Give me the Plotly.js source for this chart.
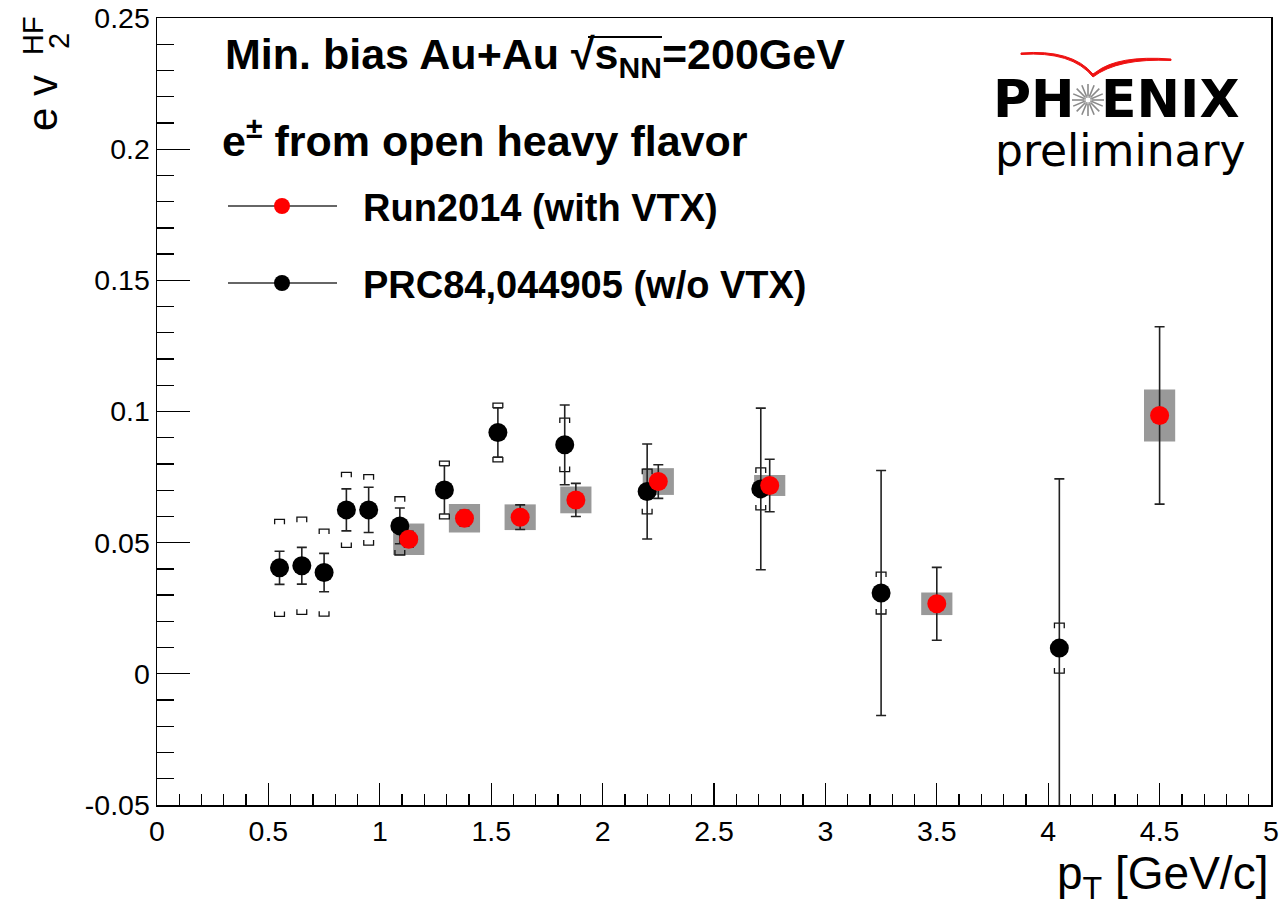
<!DOCTYPE html>
<html>
<head>
<meta charset="utf-8">
<script src="https://cdn.plot.ly/plotly-3.0.1.min.js"></script>
<style>html,body{margin:0;padding:0;background:#fff;}</style>
</head>
<body>
<div id="chart" style="width:1281px;height:916px;"></div>
<script>
// ---------------- data ----------------
// Run2014 (with VTX)
const run14_pt   = [1.13, 1.38, 1.63, 1.88, 2.25, 2.75, 3.5, 4.5];
const run14_v2   = [0.0513, 0.0593, 0.0597, 0.0663, 0.0733, 0.0718, 0.0267, 0.0985];
const run14_stat = [0.0030, 0.0030, 0.0047, 0.0063, 0.0064, 0.0100, 0.0139, 0.0338];
const run14_sys  = [0.0060, 0.0054, 0.0049, 0.0051, 0.0051, 0.0040, 0.0043, 0.0099];
// PRC84,044905 (w/o VTX)
const prc_pt   = [0.55, 0.65, 0.75, 0.85, 0.95, 1.09, 1.29, 1.53, 1.83, 2.20, 2.71, 3.25, 4.05];
const prc_v2   = [0.0404, 0.0412, 0.0386, 0.0625, 0.0625, 0.0564, 0.0701, 0.0920, 0.0873, 0.0695, 0.0705, 0.0308, 0.0098];
const prc_stat = [0.0063, 0.0070, 0.0073, 0.0080, 0.0086, 0.0068, 0.0092, 0.0094, 0.0152, 0.0181, 0.0308, 0.0467, 0.0645];
const prc_sys  = [0.0185, 0.0185, 0.0166, 0.0143, 0.0134, 0.0111, 0.0110, 0.0112, 0.0102, 0.0085, 0.0080, 0.0080, 0.0095];
// tick labels
const xTickVals = [0, 0.5, 1, 1.5, 2, 2.5, 3, 3.5, 4, 4.5, 5];
const xTickText = ["0", "0.5", "1", "1.5", "2", "2.5", "3", "3.5", "4", "4.5", "5"];
const yTickVals = [-0.05, 0, 0.05, 0.1, 0.15, 0.2, 0.25];
const yTickText = ["-0.05", "0", "0.05", "0.1", "0.15", "0.2", "0.25"];
// texts
const seriesNames = ["Run2014 (with VTX)", "PRC84,044905 (w/o VTX)"];

// ---------------- style constants ----------------
const FONT = "Liberation Sans, Arial, Helvetica, sans-serif";
const W = 1281, H = 916;
const M = {l: 157, r: 10, t: 18, b: 111};
const PW = W - M.l - M.r, PH = H - M.t - M.b;
const px = v => (v - M.l) / PW;       // pixel x -> paper
const py = v => (H - M.b - v) / PH;   // pixel y -> paper
const BOX_W = 0.14;      // width of systematic box (data units)
const BR_W = 0.022;      // half width of bracket (data units)
const BR_H = 0.0019;     // bracket leg length (data units)

// bracket line coords for systematic errors
function brackets(xs, ys, sys) {
  const bx = [], by = [];
  for (let i = 0; i < xs.length; i++) {
    const t = ys[i] + sys[i], b = ys[i] - sys[i];
    bx.push(xs[i] - BR_W, xs[i] - BR_W, xs[i] + BR_W, xs[i] + BR_W, null);
    by.push(t - BR_H, t, t, t - BR_H, null);
    bx.push(xs[i] - BR_W, xs[i] - BR_W, xs[i] + BR_W, xs[i] + BR_W, null);
    by.push(b + BR_H, b, b, b + BR_H, null);
  }
  return {bx, by};
}
const br = brackets(prc_pt, prc_v2, prc_sys);

const traces = [
  { // gray systematic boxes of Run2014
    type: 'bar', x: run14_pt,
    base: run14_v2.map((v, i) => v - run14_sys[i]),
    y: run14_sys.map(s => 2 * s),
    width: run14_pt.map(() => BOX_W),
    marker: {color: '#999999', line: {width: 0}},
    showlegend: false, hoverinfo: 'skip'
  },
  { // brackets of PRC
    type: 'scatter', mode: 'lines', x: br.bx, y: br.by,
    line: {color: '#111', width: 1.3}, showlegend: false, hoverinfo: 'skip'
  },
  {
    type: 'scatter', mode: 'markers', name: seriesNames[1],
    x: prc_pt, y: prc_v2,
    error_y: {type: 'data', array: prc_stat, visible: true, color: '#222', thickness: 1.6, width: 5},
    marker: {color: '#000', size: 19, symbol: 'circle'},
    showlegend: false
  },
  {
    type: 'scatter', mode: 'markers', name: seriesNames[0],
    x: run14_pt, y: run14_v2,
    error_y: {type: 'data', array: run14_stat, visible: true, color: '#222', thickness: 1.6, width: 5},
    marker: {color: '#ff0000', size: 19, symbol: 'circle'},
    showlegend: false
  }
];

// ---------------- decorations ----------------
const shapes = [];
// legend symbols
[[206, '#ff0000'], [283, '#000000']].forEach(([yy, c]) => {
  shapes.push({type: 'line', xref: 'paper', yref: 'paper', x0: px(228), x1: px(337), y0: py(yy), y1: py(yy),
    line: {color: '#333', width: 1.3}});
  shapes.push({type: 'circle', xref: 'paper', yref: 'paper', x0: px(274), x1: px(290), y0: py(yy + 8), y1: py(yy - 8),
    fillcolor: c, line: {color: c, width: 0}});
});
// overline of the square root
shapes.push({type: 'line', xref: 'paper', yref: 'paper', x0: px(588), x1: px(662), y0: py(37), y1: py(37),
  line: {color: '#000', width: 2}});
// PHENIX star-burst in place of the "O"
const sc = [1088, 100];
for (let k = 0; k < 16; k++) {
  const a = k * Math.PI / 8;
  shapes.push({type: 'line', xref: 'paper', yref: 'paper',
    x0: px(sc[0] + 3.5 * Math.cos(a)), y0: py(sc[1] + 3.5 * Math.sin(a)),
    x1: px(sc[0] + 16 * Math.cos(a)), y1: py(sc[1] + 16 * Math.sin(a)),
    line: {color: '#8a8a8a', width: 1.6}});
}
shapes.push({type: 'circle', xref: 'paper', yref: 'paper', x0: px(sc[0] - 3), x1: px(sc[0] + 3), y0: py(sc[1] + 3), y1: py(sc[1] - 3),
  line: {color: '#aaa', width: 1}});
// red swoosh
function P(x, y) { return px(x).toFixed(5) + ',' + py(y).toFixed(5); }
shapes.push({type: 'path', xref: 'paper', yref: 'paper',
  path: 'M' + P(1021, 53) + ' Q' + P(1072, 49) + ' ' + P(1093, 74) + ' L' + P(1096, 72) + ' Q' + P(1118, 55) + ' ' + P(1171, 59)
      + ' L' + P(1171, 60.5) + ' Q' + P(1118, 58) + ' ' + P(1093, 77) + ' Q' + P(1072, 51) + ' ' + P(1021, 54.5) + ' Z',
  fillcolor: '#ee1111', line: {color: '#ee1111', width: 1}});

const annotations = [
  {text: "<b>Min. bias Au+Au √s<sub>NN</sub>=200GeV</b>",
   x: px(223), y: py(57), xanchor: 'left', yanchor: 'middle', font: {size: 43}},
  {text: "<b>e<sup>±</sup> from open heavy flavor</b>", x: px(220), y: py(138), xanchor: 'left', yanchor: 'middle', font: {size: 43}},
  {text: "<b>" + seriesNames[0] + "</b>", x: px(361), y: py(208), xanchor: 'left', yanchor: 'middle', font: {size: 38}},
  {text: "<b>" + seriesNames[1] + "</b>", x: px(361), y: py(285), xanchor: 'left', yanchor: 'middle', font: {size: 38}},
  {text: "<b>PH</b>", x: px(1077), y: py(99), xanchor: 'right', yanchor: 'middle', font: {size: 52, family: 'DejaVu Sans'}},
  {text: "<b>ENIX</b>", x: px(1099), y: py(99), xanchor: 'left', yanchor: 'middle', font: {size: 52, family: 'DejaVu Sans'}},
  {text: "preliminary", x: px(1120), y: py(150), xanchor: 'center', yanchor: 'middle', font: {size: 44, family: 'DejaVu Sans'}},
  // axis titles
  {text: "p<sub>T</sub> [GeV/c]", x: px(1270), y: py(877), xanchor: 'right', yanchor: 'middle', font: {size: 46}},
  {text: "e v", textangle: -90, x: px(43), y: py(103), xanchor: 'center', yanchor: 'middle', font: {size: 42}},
  {text: "HF", textangle: -90, x: px(33), y: py(36), xanchor: 'center', yanchor: 'middle', font: {size: 29}},
  {text: "2", textangle: -90, x: px(59), y: py(41), xanchor: 'center', yanchor: 'middle', font: {size: 29}}
].map(a => Object.assign({xref: 'paper', yref: 'paper', showarrow: false, font: {}}, a,
  {font: Object.assign({family: FONT, color: '#000'}, a.font)}));

const axisCommon = {
  showline: true, linecolor: '#000', linewidth: 1.5, mirror: true,
  showgrid: false, zeroline: false, ticks: 'inside', tickcolor: '#000', tickwidth: 1.3,
  tickmode: 'array', tickfont: {family: FONT, size: 28.5, color: '#000'}
};

const layout = {
  width: W, height: H, margin: M,
  paper_bgcolor: '#fff', plot_bgcolor: '#fff',
  showlegend: false, hovermode: false, barmode: 'overlay',
  font: {family: FONT},
  xaxis: Object.assign({}, axisCommon, {range: [0, 5], tickvals: xTickVals, ticktext: xTickText, ticklen: 22,
    minor: {dtick: 0.1, tick0: 0, ticklen: 11, ticks: 'inside', tickcolor: '#000', tickwidth: 1.3}}),
  yaxis: Object.assign({}, axisCommon, {range: [-0.05, 0.25], tickvals: yTickVals, ticktext: yTickText, ticklen: 33,
    minor: {dtick: 0.01, tick0: 0, ticklen: 17, ticks: 'inside', tickcolor: '#000', tickwidth: 1.3}}),
  shapes: shapes,
  annotations: annotations
};

Plotly.newPlot('chart', traces, layout, {staticPlot: true, displayModeBar: false});
</script>
</body>
</html>
